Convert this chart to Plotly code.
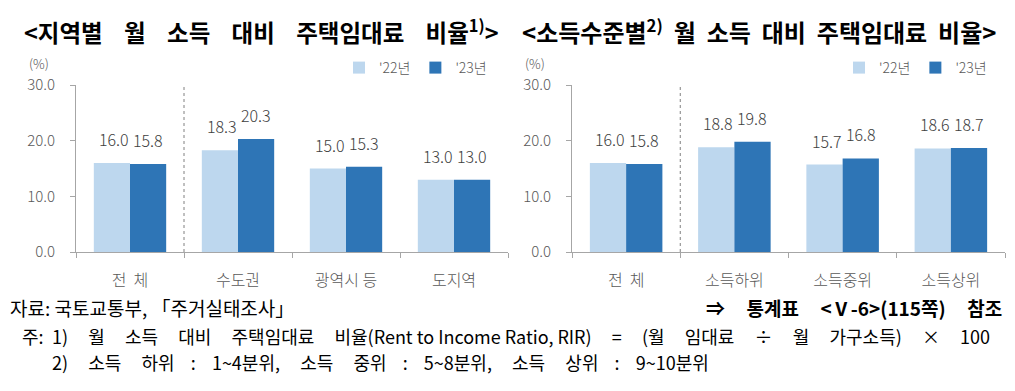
import plotly.graph_objects as go

# ---- data ----
region_cats = ["전  체", "수도권", "광역시 등", "도지역"]
region_22 = [16.0, 18.3, 15.0, 13.0]
region_23 = [15.8, 20.3, 15.3, 13.0]

income_cats = ["전  체", "소득하위", "소득중위", "소득상위"]
income_22 = [16.0, 18.8, 15.7, 18.6]
income_23 = [15.8, 19.8, 16.8, 18.7]

series_names = ["'22년", "'23년"]
y_ticks = [0, 10, 20, 30]

LIGHT = "#BDD7EE"
DARK = "#2E75B6"
FONT = "Noto Sans CJK KR"
GRAY = "#595959"

# page body has an 8px margin: figure is sized to fit inside it
OFF = 8
W, H = 1015 - 2 * OFF, 391 - 2 * OFF


def px(x):
    return (x - OFF) / W


def py(y):
    return 1 - (y - OFF) / H


NB = "\u00a0"


def spaced(words, gaps):
    """join words with a space plus the given number of non-breaking spaces"""
    assert len(gaps) == len(words) - 1
    out = words[0]
    for w, g in zip(words[1:], gaps):
        out += " " + NB * g + w
    return out


fig = go.Figure()

panels = [
    (region_cats, region_22, region_23, "x", "y", "legend"),
    (income_cats, income_22, income_23, "x2", "y2", "legend2"),
]
for cats, v22, v23, xa, ya, lg in panels:
    for name, vals, col in [(series_names[0], v22, LIGHT), (series_names[1], v23, DARK)]:
        fig.add_trace(go.Bar(
            x=cats, y=vals, name=name, marker=dict(color=col, line=dict(width=0)),
            xaxis=xa, yaxis=ya, legend=lg, showlegend=True,
            hoverinfo="x+y",
        ))
    # value labels
    for vals, shift in [(v22, -16), (v23, 18)]:
        for c, v in zip(cats, vals):
            fig.add_annotation(x=c, y=v, xref=xa, yref=ya, text=f"{v:.1f}",
                               showarrow=False, xshift=shift, yshift=10,
                               yanchor="bottom",
                               font=dict(family=FONT, size=16, color="#404040", weight=300))
    # dotted divider between the total and the groups
    fig.add_shape(type="line", xref=xa, yref=ya, x0=0.5, x1=0.5, y0=0, y1=30,
                  line=dict(color="#808080", width=1, dash="dot"))

ydom = [py(252), py(85)]
axis_common = dict(showline=True, linecolor="#A6A6A6", linewidth=1, showgrid=False,
                   ticks="outside", tickcolor="#A6A6A6", ticklen=5, automargin=False,
                   zeroline=False)
xaxis_common = dict(tickson="boundaries", ticklabelstandoff=14,
                    tickfont=dict(family=FONT, size=16, color=GRAY, weight=300), **axis_common)
yaxis_common = dict(range=[0, 30], tickvals=y_ticks, tickformat=".1f", ticklabelstandoff=12,
                    tickfont=dict(family=FONT, size=15, color=GRAY, weight=300), **axis_common)

legend_common = dict(orientation="h", y=py(68), yanchor="middle", xanchor="right",
                     font=dict(family=FONT, size=14, color=GRAY, weight=300),
                     bgcolor="rgba(0,0,0,0)", itemwidth=30, tracegroupgap=0)

fig.update_layout(
    width=W, height=H,
    margin=dict(l=0, r=0, t=0, b=0, autoexpand=False),
    paper_bgcolor="white", plot_bgcolor="white",
    barmode="group", bargap=0.33, bargroupgap=0,
    xaxis=dict(domain=[px(76), px(508)], anchor="y", **xaxis_common),
    yaxis=dict(domain=ydom, anchor="x", **yaxis_common),
    xaxis2=dict(domain=[px(572), px(1005)], anchor="y2", **xaxis_common),
    yaxis2=dict(domain=ydom, anchor="x2", **yaxis_common),
    legend=dict(x=px(492), **legend_common),
    legend2=dict(x=px(992), **legend_common),
    font=dict(family=FONT),
)

# titles
left_title = "<b>" + spaced(["&lt;지역별", "월", "소득", "대비", "주택임대료", "비율<sup>1)</sup>&gt;"],
                            [3, 3, 3, 3, 3]) + "</b>"
fig.add_annotation(x=px(22), y=py(31), xref="paper", yref="paper", xanchor="left", yanchor="middle",
                   text=left_title, showarrow=False, font=dict(family=FONT, size=23.5, color="black"))
right_title = "<b>" + spaced(["&lt;소득수준별<sup>2)</sup>", "월", "소득", "대비", "주택임대료", "비율&gt;"],
                             [1, 1, 1, 1, 1]) + "</b>"
fig.add_annotation(x=px(520), y=py(31), xref="paper", yref="paper", xanchor="left", yanchor="middle",
                   text=right_title, showarrow=False, font=dict(family=FONT, size=24, color="black"))
# unit labels
for xp in [27, 523]:
    fig.add_annotation(x=px(xp), y=py(64), xref="paper", yref="paper", xanchor="left", yanchor="middle",
                       text="(%)", showarrow=False, font=dict(family=FONT, size=13, color=GRAY, weight=300))

# footnotes
NOTE_FONT = dict(family=FONT, size=19, color="black")
fig.add_annotation(x=px(8), y=py(307), xref="paper", yref="paper", xanchor="left", yanchor="middle",
                   text="자료: 국토교통부, 「주거실태조사」", showarrow=False, font=NOTE_FONT)
fig.add_annotation(x=px(1004), y=py(307), xref="paper", yref="paper", xanchor="right", yanchor="middle",
                   text="<b>" + spaced(["⇒", "통계표", "&lt;Ⅴ-6&gt;(115쪽)", "참조"], [4, 4, 4]) + "</b>",
                   showarrow=False, font=NOTE_FONT)
NOTE2_FONT = dict(family=FONT, size=18, color="black")
fig.add_annotation(x=px(46), y=py(336), xref="paper", yref="paper", xanchor="right", yanchor="middle",
                   text="주:", showarrow=False, font=NOTE2_FONT)
note1 = (spaced(["1)", "월", "소득", "대비", "주택임대료", "비율"], [4] * 5)
         + "(Rent to Income Ratio, RIR)"
         + " " + NB * 4 + spaced(["=", "(월", "임대료", "÷", "월", "가구소득)", "×", "100"], [4] * 7))
note2 = spaced(["2)", "소득", "하위", ":", "1~4분위,", "소득", "중위", ":", "5~8분위,", "소득", "상위", ":", "9~10분위"],
               [4, 4, 3, 3, 4, 4, 3, 3, 4, 4, 3, 3])
fig.add_annotation(x=px(50), y=py(336), xref="paper", yref="paper", xanchor="left", yanchor="middle",
                   text=note1, showarrow=False, font=NOTE2_FONT)
fig.add_annotation(x=px(50), y=py(362), xref="paper", yref="paper", xanchor="left", yanchor="middle",
                   text=note2, showarrow=False, font=NOTE2_FONT)

fig.write_html("out.html")
